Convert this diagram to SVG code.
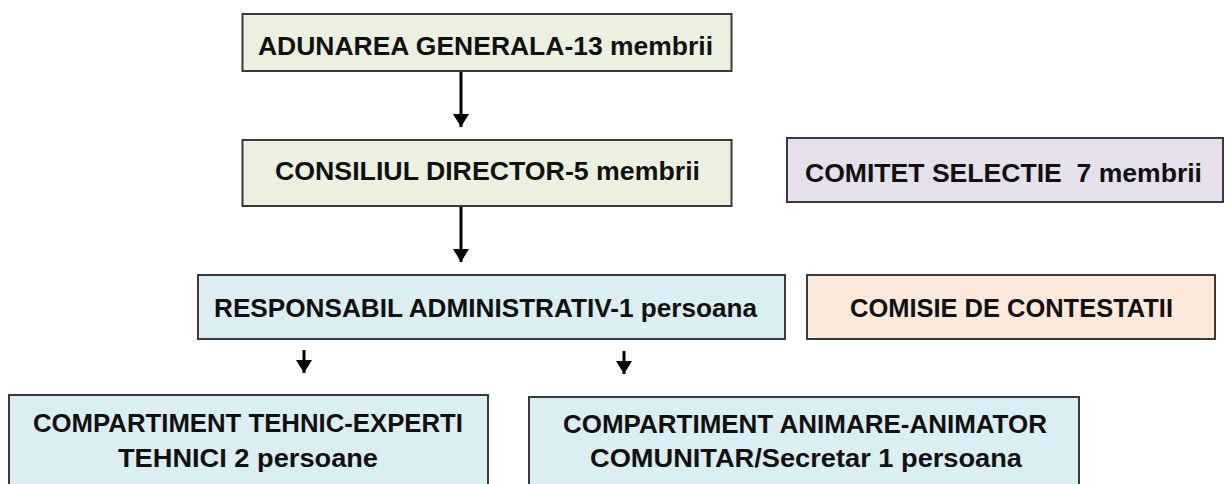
<svg xmlns="http://www.w3.org/2000/svg" width="1225" height="484" viewBox="0 0 1225 484">
<style>
.box{stroke:#3a3a3a;stroke-width:2}
.g{fill:#EBF1DE}.p{fill:#E5E0EC}.b{fill:#DBEEF3}.o{fill:#FDE9D9}
text{font-family:"Liberation Sans",Arial,sans-serif;font-weight:bold;font-size:25px;fill:#111;text-anchor:middle}
.c{stroke:#000;stroke-width:3;fill:none}
</style>
<defs>
<marker id="ah" markerUnits="userSpaceOnUse" markerWidth="16" markerHeight="14" viewBox="0 0 16 14" refX="8" refY="13" orient="0">
<path d="M0,0 L16,0 L8,13 Z" fill="#000"/>
</marker>
</defs>
<rect width="1225" height="484" fill="#fff"/>
<g id="connectors">
<path class="c" d="M461,71 V127" marker-end="url(#ah)"/>
<path class="c" d="M461,206 V262" marker-end="url(#ah)"/>
<path class="c" d="M304,350 V373" marker-end="url(#ah)"/>
<path class="c" d="M624,351 V374" marker-end="url(#ah)"/>
</g>
<g id="adunarea">
<rect class="box g" x="242.5" y="14" width="489" height="57"/>
<text x="485.5" y="55" textLength="455" lengthAdjust="spacingAndGlyphs">ADUNAREA GENERALA-13 membrii</text>
</g>
<g id="consiliul">
<rect class="box g" x="242.5" y="140" width="489" height="66"/>
<text x="487.5" y="180" textLength="425" lengthAdjust="spacingAndGlyphs">CONSILIUL DIRECTOR-5 membrii</text>
</g>
<g id="comitet">
<rect class="box p" x="787" y="138" width="436" height="64"/>
<text x="1003.5" y="182" textLength="397" lengthAdjust="spacingAndGlyphs">COMITET SELECTIE &#160;7 membrii</text>
</g>
<g id="responsabil">
<rect class="box b" x="198" y="275" width="587" height="64"/>
<text x="485.5" y="317" textLength="543" lengthAdjust="spacingAndGlyphs">RESPONSABIL ADMINISTRATIV-1 persoana</text>
</g>
<g id="comisie">
<rect class="box o" x="807" y="275" width="408" height="64"/>
<text x="1011.5" y="317" textLength="323" lengthAdjust="spacingAndGlyphs">COMISIE DE CONTESTATII</text>
</g>
<g id="tehnic">
<rect class="box b" x="9" y="395" width="479" height="100"/>
<text x="248" y="432" textLength="430" lengthAdjust="spacingAndGlyphs">COMPARTIMENT TEHNIC-EXPERTI</text>
<text x="248" y="467" textLength="260" lengthAdjust="spacingAndGlyphs">TEHNICI 2 persoane</text>
</g>
<g id="animare">
<rect class="box b" x="529" y="397" width="550" height="100"/>
<text x="805" y="433" textLength="484" lengthAdjust="spacingAndGlyphs">COMPARTIMENT ANIMARE-ANIMATOR</text>
<text x="806" y="467" textLength="432" lengthAdjust="spacingAndGlyphs">COMUNITAR/Secretar 1 persoana</text>
</g>
</svg>
